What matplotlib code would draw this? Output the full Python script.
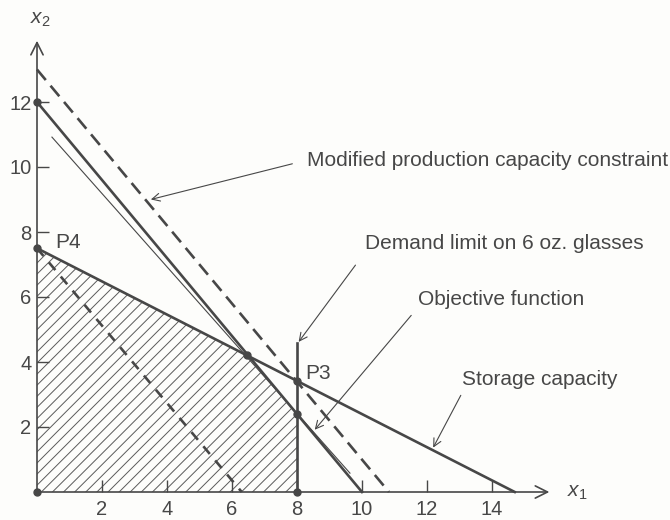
import matplotlib.pyplot as plt

plt.rcParams['font.family'] = ['Liberation Sans', 'DejaVu Sans']
plt.rcParams['mathtext.fontset'] = 'custom'
plt.rcParams['mathtext.rm'] = 'Liberation Sans'
plt.rcParams['mathtext.it'] = 'Liberation Sans:italic'
plt.rcParams['hatch.linewidth'] = 0.7

ink = '#474747'

# constraint lines
prod_x = [0, 10]
prod_y = [12, 0]
mod_x = [0, 10.83]
mod_y = [13, 0]
storage_x = [0, 14.7]
storage_y = [7.5, 0]
demand_x = [8, 8]
demand_y = [0, 4.6]
obj_x = [0.46, 9.63]
obj_y = [10.92, 0.58]
iso_x = [0, 6.3]
iso_y = [7.5, 0]

# feasible region corners
region_x = [0, 0, 6.45, 8, 8]
region_y = [0, 7.5, 4.22, 2.4, 0]

# marked points
pts_x = [0, 0, 0, 6.45, 8, 8, 8]
pts_y = [0, 7.5, 12, 4.22, 3.42, 2.4, 0]

xticks = [2, 4, 6, 8, 10, 12, 14]
yticks = [2, 4, 6, 8, 10, 12]

# annotations: label, text position, arrow start, arrow tip
notes = [
    ('Modified production capacity constraint', (8.3, 10.2), (7.94, 10.12), (3.42, 8.98)),
    ('Demand limit on 6 oz. glasses', (10.1, 7.65), (9.85, 7.05), (8.0, 4.55)),
    ('Objective function', (11.72, 5.93), (11.57, 5.5), (8.49, 1.85)),
    ('Storage capacity', (13.08, 3.45), (13.08, 3.05), (12.15, 1.29)),
]

fig = plt.figure(figsize=(6.7, 5.2), dpi=100, facecolor='#fdfdfb')
ax = fig.add_axes([37 / 670, 28 / 520, 520 / 670, 461.5 / 520])
ax.set_facecolor('none')
ax.set_xlim(0, 16)
ax.set_ylim(0, 14.2)
for s in ax.spines.values():
    s.set_visible(False)

ax.fill(region_x, region_y, facecolor='none', edgecolor='#5a5a5a', hatch='///', linewidth=0)

lw = 1.9
ax.plot(prod_x, prod_y, color=ink, lw=lw, clip_on=False)
ax.plot(mod_x, mod_y, color=ink, lw=lw, dashes=(5.2, 2.8), clip_on=False)
ax.plot(storage_x, storage_y, color=ink, lw=lw, clip_on=False)
ax.plot(demand_x, demand_y, color=ink, lw=lw, clip_on=False)
ax.plot(obj_x, obj_y, color=ink, lw=0.8, clip_on=False)
ax.plot(iso_x, iso_y, color=ink, lw=lw, dashes=(3.8, 3.2), clip_on=False)
ax.plot(pts_x, pts_y, 'o', color=ink, ms=5, clip_on=False)

# axes with arrow heads
ax.annotate('', xy=(15.85, 0), xytext=(0, 0),
            arrowprops=dict(arrowstyle='->', color=ink, lw=1.2, mutation_scale=22), annotation_clip=False)
ax.annotate('', xy=(0, 13.97), xytext=(0, 0),
            arrowprops=dict(arrowstyle='->', color=ink, lw=1.2, mutation_scale=22), annotation_clip=False)
ax.text(16.3, 0, r'$x_1$', fontsize=15, color=ink, va='center', ha='left')
ax.text(-0.2, 14.25, r'$x_2$', fontsize=15, color=ink, va='bottom', ha='left')

ax.set_xticks(xticks)
ax.set_yticks(yticks)
ax.set_xticklabels([str(t) for t in xticks])
ax.set_yticklabels([str(t) for t in yticks])
ax.tick_params(direction='in', length=8.5, width=1.0, color=ink, labelcolor=ink, labelsize=14.5)
ax.tick_params(axis='x', pad=6)
ax.tick_params(axis='y', pad=4)

ax.text(0.55, 7.68, 'P4', fontsize=15, color=ink, va='center', ha='left')
ax.text(8.25, 3.66, 'P3', fontsize=15, color=ink, va='center', ha='left')

for label, tpos, start, tip in notes:
    ax.annotate('', xy=tip, xytext=start,
                arrowprops=dict(arrowstyle='->', color=ink, lw=0.8, mutation_scale=14), annotation_clip=False)
    ax.text(tpos[0], tpos[1], label, fontsize=15, color=ink, va='center', ha='left')

fig.savefig('out.png', dpi=100, facecolor=fig.get_facecolor())
